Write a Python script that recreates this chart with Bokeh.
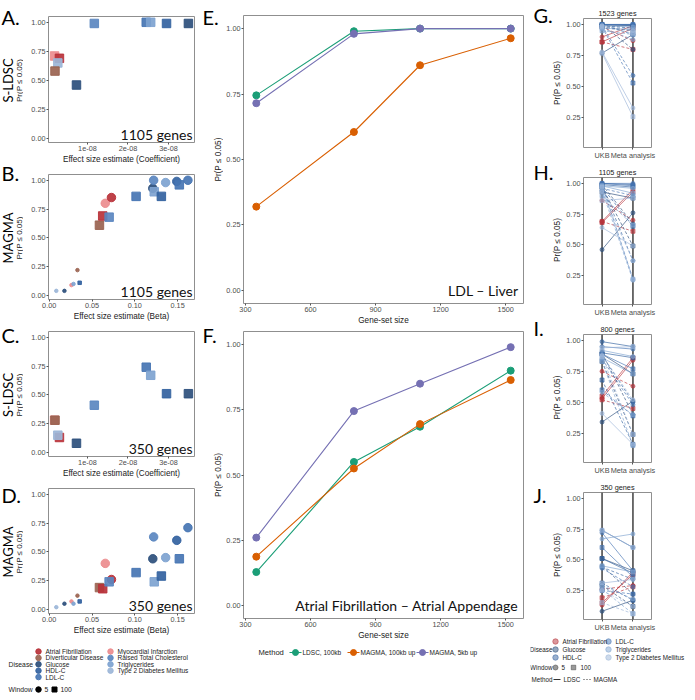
import math
from bokeh.plotting import figure
from bokeh.layouts import row, column
from bokeh.models import (Range1d, FixedTicker, Label, CustomJSTickFormatter,
                          NumeralTickFormatter, ColumnDataSource, Span)
from bokeh.core.properties import value
from bokeh.embed import file_html
from bokeh.resources import INLINE

# ---------------- data ----------------
DISEASES = ["Atrial Fibrillation", "Diverticular Disease", "Glucose", "HDL-C", "LDL-C",
            "Myocardial Infarction", "Raised Total Cholesterol", "Triglycerides",
            "Type 2 Diabetes Mellitus"]
DISEASE_COLORS = ["#b8323a", "#9a6350", "#2c4f7c", "#33629f", "#4675b3",
                  "#ec8c8e", "#5b87c0", "#7ea3d0", "#9cb6d8"]
COLOR = dict(zip(DISEASES, DISEASE_COLORS))

# S-LDSC panels (A: 1105 genes, C: 350 genes)
ldsc_disease = ["Myocardial Infarction", "Atrial Fibrillation", "Type 2 Diabetes Mellitus",
                "Diverticular Disease", "Glucose", "Raised Total Cholesterol", "LDL-C",
                "Triglycerides", "HDL-C", "Glucose"]
ldsc_coef = [0.19e-8, 0.31e-8, 0.27e-8, 0.20e-8, 0.73e-8, 1.17e-8, 2.45e-8, 2.56e-8, 2.95e-8, 3.49e-8]
ldsc_window = ["100"] * 10
ldsc_prob_1105 = [0.71, 0.69, 0.65, 0.58, 0.46, 0.99, 1.00, 1.00, 0.99, 0.99]
ldsc_prob_350 = [0.28, 0.13, 0.15, 0.28, 0.08, 0.41, 0.74, 0.67, 0.51, 0.51]

# MAGMA panels (B: 1105 genes, D: 350 genes)
magma_disease = ["Type 2 Diabetes Mellitus", "Glucose", "Myocardial Infarction", "Triglycerides",
                 "HDL-C", "Diverticular Disease", "Diverticular Disease", "Atrial Fibrillation",
                 "Myocardial Infarction", "Atrial Fibrillation", "Raised Total Cholesterol", "LDL-C",
                 "Glucose", "Raised Total Cholesterol", "Triglycerides", "HDL-C", "Triglycerides",
                 "HDL-C", "LDL-C", "LDL-C"]
magma_beta = [0.0083, 0.0178, 0.026, 0.0284, 0.0356, 0.033, 0.0587, 0.0625, 0.0655, 0.0727,
              0.070, 0.1015, 0.121, 0.122, 0.1227, 0.131, 0.136, 0.149, 0.152, 0.162]
magma_window = ["5", "5", "5", "5", "100", "5", "100", "100", "5", "5",
                "100", "100", "5", "5", "100", "100", "5", "5", "100", "5"]
magma_small = [True] * 6 + [False] * 14
magma_prob_1105 = [0.04, 0.04, 0.09, 0.10, 0.11, 0.22, 0.61, 0.69, 0.80, 0.85,
                   0.68, 0.86, 0.93, 1.00, 0.90, 0.86, 0.98, 0.99, 0.96, 1.00]
magma_prob_350 = [0.02, 0.05, 0.07, 0.05, 0.07, 0.12, 0.19, 0.18, 0.40, 0.26,
                  0.24, 0.32, 0.44, 0.63, 0.24, 0.29, 0.45, 0.60, 0.44, 0.71]

# Gene-set size panels (E, F)
GENESET_SIZES = [350, 800, 1105, 1523]
METHODS = ["LDSC, 100kb", "MAGMA, 100kb up", "MAGMA, 5kb up"]
METHOD_COLORS = ["#1b9e77", "#d95f02", "#7570b3"]
ldl_liver = {"LDSC, 100kb": [0.745, 0.99, 1.00, 1.00],
             "MAGMA, 100kb up": [0.32, 0.605, 0.86, 0.963],
             "MAGMA, 5kb up": [0.715, 0.98, 1.00, 1.00]}
af_appendage = {"LDSC, 100kb": [0.128, 0.55, 0.685, 0.90],
                "MAGMA, 100kb up": [0.187, 0.525, 0.695, 0.864],
                "MAGMA, 5kb up": [0.26, 0.745, 0.85, 0.99]}

# UKB vs meta analysis panels (G-J)
CMP_CATS = ["UKB", "Meta analysis"]
cmp_diseases = ["Atrial Fibrillation", "Glucose", "HDL-C", "LDL-C", "Triglycerides",
                "Type 2 Diabetes Mellitus"]
cmp_disease = [d for d in cmp_diseases for _ in range(4)]
cmp_method = ["LDSC", "LDSC", "MAGMA", "MAGMA"] * 6
cmp_window = ["5", "100", "5", "100"] * 6
ukb_1523 = [0.90, 0.86, 0.98, 0.86, 0.77, 0.99, 1.00, 0.98, 1.00, 1.00, 0.99, 1.00,
            1.00, 1.00, 0.99, 0.98, 0.99, 0.97, 0.97, 0.95, 0.78, 0.77, 0.99, 0.98]
meta_1523 = [0.99, 0.97, 0.87, 0.80, 0.92, 0.99, 0.80, 0.95, 1.00, 0.99, 0.97, 0.92,
             1.00, 1.00, 0.59, 0.53, 0.98, 0.96, 0.88, 0.92, 0.33, 0.26, 0.95, 0.93]
ukb_1105 = [0.69, 0.68, 0.86, 0.69, 0.46, 0.93, 0.99, 0.97, 1.00, 0.99, 0.98, 0.97,
            1.00, 1.00, 0.99, 0.96, 0.98, 0.98, 0.94, 0.90, 0.64, 0.86, 0.93, 0.97]
meta_1105 = [0.95, 0.93, 0.70, 0.61, 0.76, 0.88, 0.67, 0.49, 0.99, 0.97, 0.37, 0.65,
             1.00, 0.98, 0.22, 0.90, 0.96, 0.92, 0.21, 0.66, 0.49, 0.88, 0.37, 0.22]
ukb_800 = [0.53, 0.55, 0.75, 0.52, 0.34, 0.89, 0.90, 0.83, 0.99, 0.90, 0.88, 0.68,
           0.95, 0.89, 0.85, 0.60, 0.92, 0.86, 0.58, 0.83, 0.41, 0.94, 0.88, 0.87]
meta_800 = [0.84, 0.86, 0.63, 0.45, 0.51, 0.73, 0.40, 0.24, 0.95, 0.86, 0.50, 0.16,
            0.93, 0.77, 0.48, 0.39, 0.87, 0.73, 0.40, 0.15, 0.16, 0.95, 0.52, 0.24]
ukb_350 = [0.13, 0.15, 0.26, 0.19, 0.08, 0.51, 0.45, 0.29, 0.74, 0.51, 0.44, 0.31,
           0.72, 0.60, 0.43, 0.25, 0.67, 0.45, 0.29, 0.26, 0.31, 0.74, 0.25, 0.15]
meta_350 = [0.40, 0.38, 0.29, 0.28, 0.17, 0.41, 0.22, 0.12, 0.60, 0.39, 0.34, 0.17,
            0.41, 0.36, 0.28, 0.22, 0.71, 0.40, 0.18, 0.06, 0.34, 0.60, 0.12, 0.06]

# ---------------- style helpers ----------------
TF = "Liberation Sans"
BF = "Lato"
MARK = {"5": "circle", "100": "square"}
YLAB = "Pr(P \u2264 0.05)"
HALF_PI = math.pi / 2


def base_style(p):
    p.xgrid.visible = False
    p.ygrid.visible = False
    p.outline_line_color = "#8f8f8f"
    p.outline_line_width = 1
    for ax in list(p.xaxis) + list(p.yaxis):
        ax.axis_line_color = None
        ax.major_tick_line_color = "#555555"
        ax.major_tick_out = 2
        ax.major_tick_in = 0
        ax.minor_tick_line_color = None
        ax.major_label_text_font = TF
        ax.major_label_text_font_size = "7.3px"
        ax.major_label_text_color = "#4d4d4d"
        ax.major_label_standoff = 1
        ax.axis_label_text_font = TF
        ax.axis_label_text_font_size = "8.2px"
        ax.axis_label_text_font_style = "normal"
        ax.axis_label_text_color = "#1a1a1a"
        ax.axis_label_standoff = 1


def plain_fig(w, h):
    p = figure(width=w, height=h, x_range=Range1d(0, w), y_range=Range1d(0, h),
               output_backend="svg", toolbar_location=None, min_border=0)
    p.axis.visible = False
    p.xgrid.visible = False
    p.ygrid.visible = False
    p.outline_line_color = None
    return p


def txt(p, xs, ys, labels, size="6.6px", align="left", color="#1a1a1a", font=TF,
        baseline="middle", angle=0.0):
    p.text(x=xs, y=ys, text=labels, text_font=value(font), text_font_size=value(size),
           text_align=align, text_baseline=baseline, text_color=color, angle=angle)


def frame_centres(specs, bottom):
    starts = [sum(s[0] for s in specs[:i]) for i in range(len(specs))]
    return [s + t + (h - t - bottom) / 2 for s, (h, t) in zip(starts, specs)]


# ---------------- left column ----------------
L_STRIP = 23
L_W = 195 - L_STRIP
L_SPECS = [(166, 16), (157, 8), (157, 8), (157, 8)]   # (height, top border)
L_BOTTOM = 22


def left_panel(spec, genes, xs, ys, dis, wins, smalls, xr, xticks, fmt, xlabel):
    h, top = spec
    p = figure(width=L_W, height=h, x_range=Range1d(*xr), y_range=Range1d(-0.035, 1.05),
               output_backend="svg", toolbar_location=None,
               min_border_left=25, min_border_right=1, min_border_top=top,
               min_border_bottom=L_BOTTOM)
    base_style(p)
    p.xaxis.ticker = FixedTicker(ticks=xticks)
    p.xaxis.formatter = fmt
    p.xaxis.axis_label = xlabel
    p.yaxis.ticker = FixedTicker(ticks=[0, 0.25, 0.5, 0.75, 1.0])
    p.yaxis.formatter = NumeralTickFormatter(format="0.00")
    src = ColumnDataSource(dict(x=xs, y=ys, color=[COLOR[d] for d in dis],
                                marker=[MARK[w] for w in wins],
                                size=[3.5 if s else 8.5 for s in smalls]))
    p.scatter("x", "y", source=src, marker="marker", size="size", fill_color="color",
              line_color="color", alpha=0.92)
    p.add_layout(Label(x=xr[1], y=-0.035, x_offset=-2, y_offset=0, text=genes,
                       text_font=BF, text_font_size="14px", text_align="right",
                       text_baseline="bottom", text_color="#111111"))
    return p


sci_fmt = CustomJSTickFormatter(code="return Math.round(tick * 1e8) + 'e-08';")
beta_fmt = NumeralTickFormatter(format="0.00")
COEF_RANGE = (0.04e-8, 3.64e-8)
BETA_RANGE = (-0.0008, 0.1697)

A = left_panel(L_SPECS[0], "1105 genes", ldsc_coef, ldsc_prob_1105, ldsc_disease, ldsc_window,
               [False] * 10, COEF_RANGE, [1e-8, 2e-8, 3e-8], sci_fmt,
               "Effect size estimate (Coefficient)")
B = left_panel(L_SPECS[1], "1105 genes", magma_beta, magma_prob_1105, magma_disease,
               magma_window, magma_small, BETA_RANGE, [0, 0.05, 0.10, 0.15], beta_fmt,
               "Effect size estimate (Beta)")
C = left_panel(L_SPECS[2], "350 genes", ldsc_coef, ldsc_prob_350, ldsc_disease, ldsc_window,
               [False] * 10, COEF_RANGE, [1e-8, 2e-8, 3e-8], sci_fmt,
               "Effect size estimate (Coefficient)")
D = left_panel(L_SPECS[3], "350 genes", magma_beta, magma_prob_350, magma_disease,
               magma_window, magma_small, BETA_RANGE, [0, 0.05, 0.10, 0.15], beta_fmt,
               "Effect size estimate (Beta)")

# strip with panel letters, method names and y-axis titles
L_H = sum(h for h, t in L_SPECS)
SL = plain_fig(L_STRIP, L_H)
lc = frame_centres(L_SPECS, L_BOTTOM)
txt(SL, [1] * 4, [L_H - y for y in (4, 160, 322, 482)], ["A.", "B.", "C.", "D."],
    size="20px", font=BF, baseline="top", color="black")
txt(SL, [7] * 4, [L_H - c for c in lc], ["S-LDSC", "MAGMA", "S-LDSC", "MAGMA"],
    size="13px", font=BF, align="center", color="black", angle=HALF_PI)
txt(SL, [18.8] * 4, [L_H - c for c in lc], [YLAB] * 4, size="8px", align="center",
    angle=HALF_PI)

# left legend
LL_H = 60
LL = plain_fig(195, LL_H)
rows_l = [(i // 5, i % 5) for i in range(len(DISEASES))]
ly = [LL_H - (14 + 6.4 * r) for c, r in rows_l]
LL.scatter([38 + 72 * c for c, r in rows_l], ly, size=5.5, color=DISEASE_COLORS, alpha=0.92)
txt(LL, [45 + 72 * c for c, r in rows_l], ly, DISEASES, size="6.5px")
txt(LL, [8], [LL_H - 27], ["Disease"], size="6.8px")
txt(LL, [8], [LL_H - 52], ["Window"], size="6.8px")
LL.scatter([38], [LL_H - 52], size=5.5, color="black", marker="circle")
LL.scatter([54], [LL_H - 52], size=5, color="black", marker="square")
txt(LL, [44, 60], [LL_H - 52] * 2, ["5", "100"], size="6.8px")

left_col = column(row(SL, column(A, B, C, D)), LL)

# ---------------- middle column ----------------
M_STRIP = 28
M_W = 335 - M_STRIP
M_SPECS = [(330, 15), (315, 1)]
M_BOTTOM = 27


def mid_panel(data, label, spec):
    h, top = spec
    p = figure(width=M_W, height=h, x_range=Range1d(291, 1582), y_range=Range1d(-0.05, 1.05),
               output_backend="svg", toolbar_location=None,
               min_border_left=20, min_border_right=7, min_border_top=top,
               min_border_bottom=M_BOTTOM)
    base_style(p)
    p.xaxis.ticker = FixedTicker(ticks=[300, 600, 900, 1200, 1500])
    p.xaxis.axis_label = "Gene-set size"
    p.yaxis.ticker = FixedTicker(ticks=[0, 0.25, 0.5, 0.75, 1.0])
    p.yaxis.formatter = NumeralTickFormatter(format="0.00")
    for m, c in zip(METHODS, METHOD_COLORS):
        p.line(GENESET_SIZES, data[m], line_color=c, line_width=1.1)
        p.scatter(GENESET_SIZES, data[m], size=7, color=c)
    p.add_layout(Label(x=1582, y=-0.05, x_offset=-5, y_offset=5, text=label,
                       text_font=BF, text_font_size="14px", text_align="right",
                       text_baseline="bottom", text_color="#111111"))
    return p


E = mid_panel(ldl_liver, "LDL \u2013 Liver", M_SPECS[0])
F = mid_panel(af_appendage, "Atrial Fibrillation \u2013 Atrial Appendage", M_SPECS[1])

M_H = sum(h for h, t in M_SPECS)
SM = plain_fig(M_STRIP, M_H)
mc = frame_centres(M_SPECS, M_BOTTOM)
txt(SM, [7, 7], [M_H - 4, M_H - 322], ["E.", "F."], size="20px", font=BF, baseline="top",
    color="black")
txt(SM, [22.5, 22.5], [M_H - c for c in mc], [YLAB] * 2, size="8.2px", align="center",
    angle=HALF_PI)

LM_H = 52
LM = plain_fig(335, LM_H)
my = LM_H - 7
txt(LM, [63], [my], ["Method"], size="7.6px")
mx = [100, 158, 227]
for xc, c in zip(mx, METHOD_COLORS):
    LM.segment([xc - 6], [my], [xc + 6], [my], line_color=c, line_width=1.1)
LM.scatter(mx, [my] * 3, size=6, color=METHOD_COLORS)
txt(LM, [107, 165, 234], [my] * 3, METHODS, size="6.5px")

mid_col = column(row(SM, column(E, F)), LM)

# ---------------- right column ----------------
R_STRIP = 33
R_W = 165 - R_STRIP
R_SPECS = [(165, 18), (157, 10), (158, 10), (157, 10)]
R_BOTTOM = 18


def cmp_panel(spec, title, ukb, meta):
    h, top = spec
    p = figure(width=R_W, height=h, x_range=Range1d(0.4, 2.6), y_range=Range1d(0.013, 1.048),
               output_backend="svg", toolbar_location=None,
               min_border_left=18, min_border_right=44, min_border_top=top,
               min_border_bottom=R_BOTTOM)
    base_style(p)
    p.title.text = title
    p.title.align = "center"
    p.title.text_font = TF
    p.title.text_font_size = "7.3px"
    p.title.text_font_style = "normal"
    p.title.text_color = "#1a1a1a"
    p.title.standoff = 1
    p.xaxis.ticker = FixedTicker(ticks=[1, 2])
    p.xaxis.major_label_overrides = {1: CMP_CATS[0], 2: CMP_CATS[1]}
    p.yaxis.ticker = FixedTicker(ticks=[0.25, 0.5, 0.75, 1.0])
    p.yaxis.formatter = NumeralTickFormatter(format="0.00")
    for i in range(len(CMP_CATS)):
        p.add_layout(Span(location=i + 1, dimension="height", line_color="#222222",
                          line_width=1.3, level="underlay"))
    for meth, dash in (("LDSC", "solid"), ("MAGMA", "3 2")):
        idx = [k for k in range(len(cmp_method)) if cmp_method[k] == meth]
        src = ColumnDataSource(dict(x0=[1] * len(idx), x1=[2] * len(idx),
                                    y0=[ukb[k] for k in idx], y1=[meta[k] for k in idx],
                                    color=[COLOR[cmp_disease[k]] for k in idx]))
        p.segment("x0", "y0", "x1", "y1", source=src, line_color="color", line_width=1,
                  line_dash=dash, line_alpha=0.65)
    for xi, vals in ((1, ukb), (2, meta)):
        src = ColumnDataSource(dict(x=[xi] * len(vals), y=vals,
                                    color=[COLOR[d] for d in cmp_disease],
                                    marker=[MARK[w] for w in cmp_window]))
        p.scatter("x", "y", source=src, marker="marker", size=4, color="color", alpha=0.6)
    return p


G = cmp_panel(R_SPECS[0], "1523 genes", ukb_1523, meta_1523)
H = cmp_panel(R_SPECS[1], "1105 genes", ukb_1105, meta_1105)
I = cmp_panel(R_SPECS[2], "800 genes", ukb_800, meta_800)
J = cmp_panel(R_SPECS[3], "350 genes", ukb_350, meta_350)

R_H = sum(h for h, t in R_SPECS)
SR = plain_fig(R_STRIP, R_H)
rc = frame_centres(R_SPECS, R_BOTTOM)
txt(SR, [3] * 4, [R_H - y for y in (2, 159, 315, 482)], ["G.", "H.", "I.", "J."],
    size="20px", font=BF, baseline="top", color="black")
txt(SR, [27] * 4, [R_H - c for c in rc], [YLAB] * 4, size="8.2px", align="center",
    angle=HALF_PI)

LR_H = 60
LR = plain_fig(165, LR_H)
rows_r = [(i // 3, i % 3) for i in range(len(cmp_diseases))]
ry = [LR_H - (4 + 8 * r) for c, r in rows_r]
LR.scatter([25 + 53 * c for c, r in rows_r], ry, size=5.5,
           color=[COLOR[d] for d in cmp_diseases], alpha=0.5)
txt(LR, [32 + 53 * c for c, r in rows_r], ry, cmp_diseases, size="6.3px")
txt(LR, [22, 22, 22], [LR_H - 12, LR_H - 30, LR_H - 42], ["Disease", "Window", "Method"],
    size="6.3px", align="right")
LR.scatter([25], [LR_H - 30], size=5, color="#555555", alpha=0.6, marker="circle")
LR.scatter([43], [LR_H - 30], size=4.5, color="#555555", alpha=0.6, marker="square")
txt(LR, [31, 50], [LR_H - 30] * 2, ["5", "100"], size="6.3px")
LR.segment([23], [LR_H - 42], [30], [LR_H - 42], line_color="#333333", line_width=1)
LR.segment([53], [LR_H - 42], [60], [LR_H - 42], line_color="#333333", line_width=1,
           line_dash="1 2")
txt(LR, [33, 63], [LR_H - 42] * 2, ["LDSC", "MAGMA"], size="6.3px")

right_col = column(row(SR, column(G, H, I, J)), LR)

layout = row(left_col, mid_col, right_col)

open("out.html", "w").write(file_html(layout, INLINE))
